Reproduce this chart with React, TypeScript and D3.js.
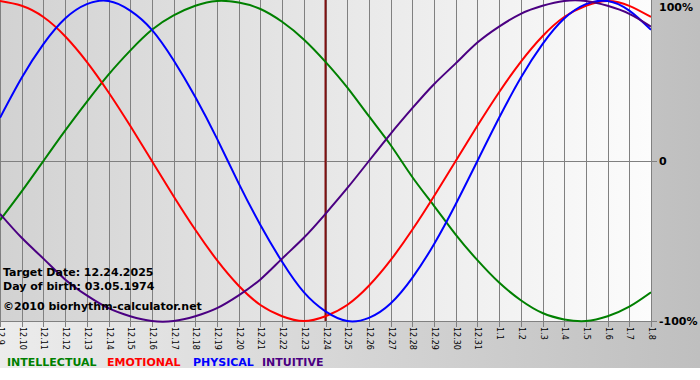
import React from "react";
import * as d3 from "d3";

const days = [
  "12.9", "12.10", "12.11", "12.12", "12.13", "12.14", "12.15", "12.16", "12.17", "12.18",
  "12.19", "12.20", "12.21", "12.22", "12.23", "12.24", "12.25", "12.26", "12.27", "12.28",
  "12.29", "12.30", "12.31", "1.1", "1.2", "1.3", "1.4", "1.5", "1.6", "1.7", "1.8",
];

const physical = [0.27, 0.52, 0.73, 0.89, 0.98, 1.0, 0.94, 0.82, 0.63, 0.4, 0.14, -0.14, -0.4, -0.63, -0.82, -0.94, -1.0, -0.98, -0.89, -0.73, -0.52, -0.27, 0.0, 0.27, 0.52, 0.73, 0.89, 0.98, 1.0, 0.94, 0.82];
const emotional = [1.0, 0.97, 0.9, 0.78, 0.62, 0.43, 0.22, 0.0, -0.22, -0.43, -0.62, -0.78, -0.9, -0.97, -1.0, -0.97, -0.9, -0.78, -0.62, -0.43, -0.22, 0.0, 0.22, 0.43, 0.62, 0.78, 0.9, 0.97, 1.0, 0.97, 0.9];
const intellectual = [-0.37, -0.19, 0.0, 0.19, 0.37, 0.54, 0.69, 0.82, 0.91, 0.97, 1.0, 0.99, 0.95, 0.87, 0.76, 0.62, 0.46, 0.28, 0.1, -0.1, -0.28, -0.46, -0.62, -0.76, -0.87, -0.95, -0.99, -1.0, -0.97, -0.91, -0.82];
const intuitive = [-0.33, -0.48, -0.61, -0.74, -0.84, -0.92, -0.97, -1.0, -1.0, -0.97, -0.92, -0.84, -0.74, -0.61, -0.48, -0.33, -0.17, 0.0, 0.17, 0.33, 0.48, 0.61, 0.74, 0.84, 0.92, 0.97, 1.0, 1.0, 0.97, 0.92, 0.84];

const targetDay = "12.24";
const yTicks = [
  { v: 1, label: "100%" },
  { v: 0, label: "0" },
  { v: -1, label: "-100%" },
];

const series = [
  { name: "INTELLECTUAL", values: intellectual, color: "#008000" },
  { name: "EMOTIONAL", values: emotional, color: "#ff0000" },
  { name: "PHYSICAL", values: physical, color: "#0000ff" },
  { name: "INTUITIVE", values: intuitive, color: "#4b0082" },
];
const legendX = [7, 107, 193, 262];

const infoLines = [
  "Target Date: 12.24.2025",
  "Day of birth: 03.05.1974",
  "\u00a92010 biorhythm-calculator.net",
];

const W = 700;
const H = 380;
const PL = 0;
const PR = 651;
const PT = 1;
const PB = 321;

export default function App() {
  const x = d3.scalePoint<string>().domain(days).range([PL, PR]).padding(0);
  const y = d3.scaleLinear().domain([-1, 1]).range([PB, PT]);

  const line = (vals: number[]) =>
    d3
      .line<number>()
      .x((_, i) => x(days[i]) as number)
      .y((v) => y(v))
      .curve(d3.curveNatural)(vals) as string;

  const font = "'DejaVu Sans', Verdana, sans-serif";
  const tx = x(targetDay) as number;

  return (
    <svg
      width={W}
      height={H}
      style={{ position: "absolute", left: 0, top: 0, display: "block" }}
      fontFamily={font}
    >
      <defs>
        <linearGradient id="outerBg" x1="0" x2="1" y1="0" y2="0">
          <stop offset="0" stopColor="#ececec" />
          <stop offset="1" stopColor="#bfbfbf" />
        </linearGradient>
        <linearGradient id="plotBg" x1="0" x2="1" y1="0" y2="0">
          <stop offset="0" stopColor="#d2d2d2" />
          <stop offset="1" stopColor="#fcfcfc" />
        </linearGradient>
        <clipPath id="plotClip">
          <rect x={PL} y={0} width={PR - PL} height={PB + 2} />
        </clipPath>
      </defs>

      <rect x={0} y={0} width={W} height={H} fill="#ffffff" />
      <rect x={0} y={0} width={W} height={368} fill="url(#outerBg)" />
      <rect x={PL} y={0} width={PR - PL} height={PB} fill="url(#plotBg)" />

      {/* vertical grid lines + ticks */}
      {days.map((d) => {
        const xx = Math.round(x(d) as number) + 0.5;
        return (
          <line key={d} x1={xx} x2={xx} y1={0} y2={PB + 6} stroke="#808080" strokeWidth={1} />
        );
      })}
      {/* horizontal grid lines */}
      {[0, -1].map((v) => {
        const yy = Math.round(y(v)) + 0.5;
        return <line key={v} x1={PL} x2={PR + 6} y1={yy} y2={yy} stroke="#808080" strokeWidth={1} />;
      })}

      {/* target date line */}
      <line x1={tx} x2={tx} y1={0} y2={PB} stroke="#801010" strokeWidth={2} />

      <g clipPath="url(#plotClip)">
        {series.map((s) => (
          <path key={s.name} d={line(s.values)} fill="none" stroke={s.color} strokeWidth={2} />
        ))}
      </g>

      {/* y labels */}
      {yTicks.map((t) => (
        <text
          key={t.label}
          x={659}
          y={Math.min(Math.max(y(t.v), 7), 400)}
          dominantBaseline="central"
          fontSize={11}
          fontWeight="bold"
          fill="#000"
        >
          {t.label}
        </text>
      ))}

      {/* x labels */}
      {days.map((d) => {
        const xx = Math.round(x(d) as number) + 0.5;
        return (
          <text
            key={d}
            transform={`translate(${xx},${PB + 6}) rotate(90)`}
            dominantBaseline="central"
            fontSize={8}
            fill="#000"
          >
            {d}
          </text>
        );
      })}

      {/* info text */}
      {infoLines.map((t, i) => (
        <text key={i} x={3} y={276 + i * 14 + (i === 2 ? 6 : 0)} fontSize={11} fontWeight="bold" fill="#000">
          {t}
        </text>
      ))}

      {/* legend */}
      {series.map((s, i) => (
        <text key={s.name} x={legendX[i]} y={366} fontSize={11} fontWeight="bold" fill={s.color}>
          {s.name}
        </text>
      ))}
    </svg>
  );
}
